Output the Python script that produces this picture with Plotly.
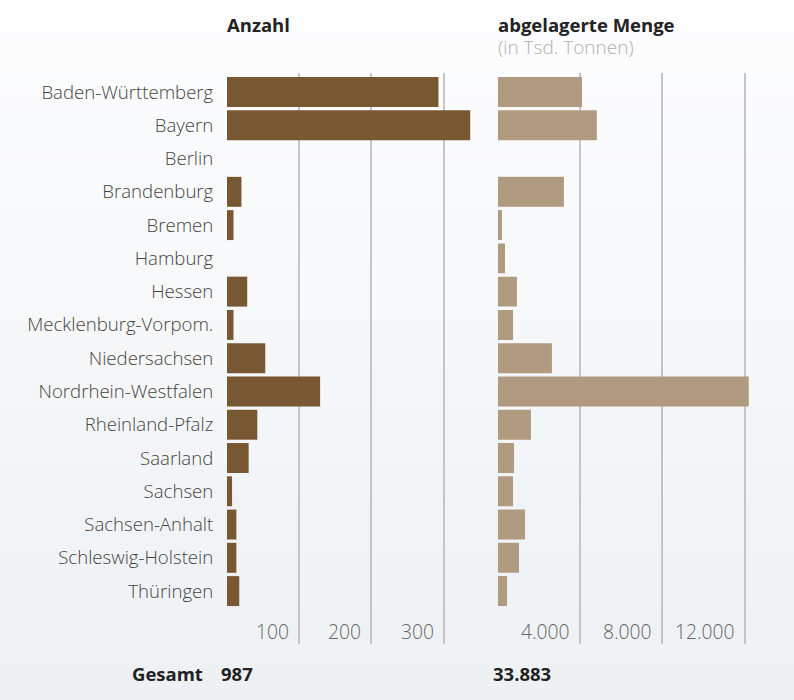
import plotly.graph_objects as go

states = ["Baden-Württemberg", "Bayern", "Berlin", "Brandenburg", "Bremen", "Hamburg",
          "Hessen", "Mecklenburg-Vorpom.", "Niedersachsen", "Nordrhein-Westfalen",
          "Rheinland-Pfalz", "Saarland", "Sachsen", "Sachsen-Anhalt",
          "Schleswig-Holstein", "Thüringen"]
anzahl = [293, 337, 0, 20, 9, 0, 28, 9, 53, 129, 42, 30, 7, 13, 13, 17]
menge = [4090, 4810, 0, 3210, 200, 350, 930, 740, 2630, 12190, 1610, 790, 740, 1320, 1030, 450]
anzahl_ticks = [100, 200, 300]
menge_ticks = [4000, 8000, 12000]
menge_tick_text = ["4.000", "8.000", "12.000"]
gesamt_anzahl = "987"
gesamt_menge = "33.883"

W, H = 794, 700
FONT = "Open Sans"

fig = go.Figure()
fig.add_trace(go.Bar(y=states, x=anzahl, orientation="h", xaxis="x", yaxis="y",
                     marker=dict(color="#785833", line=dict(width=0)), hoverinfo="x+y"))
fig.add_trace(go.Bar(y=states, x=menge, orientation="h", xaxis="x2", yaxis="y",
                     marker=dict(color="#b09a80", line=dict(width=0)), hoverinfo="x+y"))

# gradient background
shapes = []
n = 70
top = (253, 253, 254)
bot = (237, 241, 244)
for i in range(n):
    t = i / (n - 1)
    c = tuple(round(top[k] + (bot[k] - top[k]) * t) for k in range(3))
    shapes.append(dict(type="rect", xref="paper", yref="paper", x0=0, x1=1,
                       y0=1 - (i + 1) / n, y1=1 - i / n, layer="below",
                       fillcolor="rgb(%d,%d,%d)" % c, line=dict(width=0)))

grid = "#c4c5c9"
fig.update_layout(
    width=W, height=H, margin=dict(l=0, r=0, t=0, b=0),
    paper_bgcolor="rgb(246,248,250)", plot_bgcolor="rgba(0,0,0,0)",
    showlegend=False, bargap=0.1, shapes=shapes,
    font=dict(family=FONT, color="#444"),
    xaxis=dict(domain=[227 / W, 476 / W], range=[0, 345], tickvals=[0] + anzahl_ticks,
               showticklabels=False, showgrid=True, gridcolor=grid, gridwidth=2.2,
               zeroline=False, showline=False, ticks=""),
    xaxis2=dict(domain=[497.8 / W, 751 / W], range=[0, 12300], tickvals=[0] + menge_ticks,
                showticklabels=False, showgrid=True, gridcolor=grid, gridwidth=2.2,
                zeroline=False, showline=False, ticks="", anchor="y"),
    yaxis=dict(domain=[1 - 644 / H, 1 - 73 / H], type="category", range=[16.59, -0.571],
               showgrid=False, zeroline=False, showline=False,
               ticks="outside", ticklen=9, tickcolor="rgba(0,0,0,0)",
               tickfont=dict(family=FONT, size=18.6, color="#444", weight=300)),
)

ann = []
tick_y = 1 - 631 / H
tick_font = dict(family=FONT, size=19.3, color="#666", weight=300)
for v in anzahl_ticks:
    ann.append(dict(x=v, xref="x", y=tick_y, yref="paper", text=str(v), showarrow=False,
                    xanchor="right", yanchor="middle", xshift=-8, font=tick_font))
for v, t in zip(menge_ticks, menge_tick_text):
    ann.append(dict(x=v, xref="x2", y=tick_y, yref="paper", text=t, showarrow=False,
                    xanchor="right", yanchor="middle", xshift=-8, font=tick_font))

bold = dict(family=FONT, size=18.5, color="#222", weight=700)
ann.append(dict(x=225 / W, y=1 - 25 / H, xref="paper", yref="paper", text="Anzahl",
                showarrow=False, xanchor="left", yanchor="middle", font=bold))
ann.append(dict(x=496 / W, y=1 - 25 / H, xref="paper", yref="paper", text="abgelagerte Menge",
                showarrow=False, xanchor="left", yanchor="middle", font=bold))
ann.append(dict(x=496 / W, y=1 - 47 / H, xref="paper", yref="paper", text="(in Tsd. Tonnen)",
                showarrow=False, xanchor="left", yanchor="middle",
                font=dict(family=FONT, size=19, color="#b0b0b0", weight=300)))
gy = 1 - 673 / H
ann.append(dict(x=130 / W, y=gy, xref="paper", yref="paper", text="Gesamt",
                showarrow=False, xanchor="left", yanchor="middle", font=bold))
ann.append(dict(x=219 / W, y=gy, xref="paper", yref="paper", text=gesamt_anzahl,
                showarrow=False, xanchor="left", yanchor="middle", font=bold))
ann.append(dict(x=491 / W, y=gy, xref="paper", yref="paper", text=gesamt_menge,
                showarrow=False, xanchor="left", yanchor="middle", font=bold))
fig.update_layout(annotations=ann)

fig.write_html("out.html", config={"displayModeBar": False},
               post_script="document.body.style.margin='0';document.body.style.overflow='hidden';")
